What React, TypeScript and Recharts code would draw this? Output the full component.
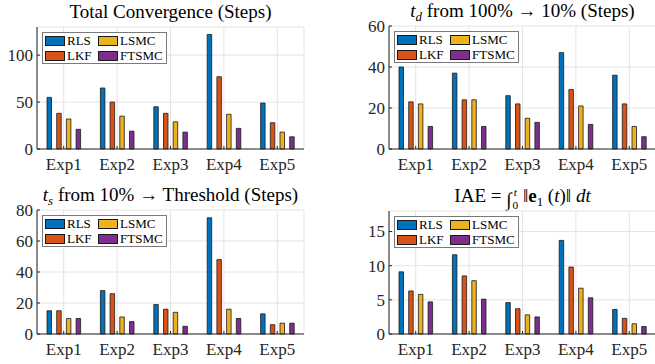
import React from 'react';
import { BarChart, Bar, XAxis, YAxis, CartesianGrid, Legend } from 'recharts';

const experiments = ['Exp1', 'Exp2', 'Exp3', 'Exp4', 'Exp5'];
const methods = ['RLS', 'LKF', 'LSMC', 'FTSMC'];

// Total convergence (steps)
const totalRLS = [55, 65, 45, 122, 49];
const totalLKF = [38, 50, 38, 77, 28];
const totalLSMC = [32, 35, 29, 37, 18];
const totalFTSMC = [21, 19, 18, 22, 13];

// t_d from 100% -> 10% (steps)
const tdRLS = [40, 37, 26, 47, 36];
const tdLKF = [23, 24, 22, 29, 22];
const tdLSMC = [22, 24, 15, 21, 11];
const tdFTSMC = [11, 11, 13, 12, 6];

// t_s from 10% -> threshold (steps)
const tsRLS = [15, 28, 19, 75, 13];
const tsLKF = [15, 26, 16, 48, 6];
const tsLSMC = [10, 11, 14, 16, 7];
const tsFTSMC = [10, 8, 5, 10, 7];

// IAE
const iaeRLS = [9.1, 11.6, 4.6, 13.7, 3.6];
const iaeLKF = [6.3, 8.5, 3.7, 9.8, 2.3];
const iaeLSMC = [5.8, 7.8, 2.8, 6.7, 1.5];
const iaeFTSMC = [4.7, 5.1, 2.5, 5.3, 1.1];

const totalTicks = [0, 50, 100];
const tdTicks = [0, 20, 40, 60];
const tsTicks = [0, 20, 40, 60, 80];
const iaeTicks = [0, 5, 10, 15];

const COLORS: Record<string, string> = {
  RLS: '#0072BD',
  LKF: '#D95319',
  LSMC: '#EDB120',
  FTSMC: '#7E2F8E',
};

const FONT = 'Liberation Serif';
const AXIS = '#262626';
const TICK_LEN = 3;

const toRows = (rls: number[], lkf: number[], lsmc: number[], ftsmc: number[]) =>
  experiments.map((exp, i) => ({ exp, RLS: rls[i], LKF: lkf[i], LSMC: lsmc[i], FTSMC: ftsmc[i] }));

const BottomTick = ({ x, y, payload }: any) => (
  <g>
    <line x1={x} x2={x} y1={y} y2={y - TICK_LEN} stroke={AXIS} />
    <text x={x} y={y + 21} textAnchor="middle" fill={AXIS} fontFamily={FONT} fontSize={17}>
      {payload.value}
    </text>
  </g>
);

const TopTick = ({ x, y }: any) => <line x1={x} x2={x} y1={y} y2={y + TICK_LEN} stroke={AXIS} />;

const LeftTick = ({ x, y, payload }: any) => (
  <g>
    <line x1={x} x2={x + TICK_LEN} y1={y} y2={y} stroke={AXIS} />
    <text x={x - 4} y={y} dy="0.35em" textAnchor="end" fill={AXIS} fontFamily={FONT} fontSize={17}>
      {payload.value}
    </text>
  </g>
);

const RightTick = ({ x, y }: any) => <line x1={x} x2={x - TICK_LEN} y1={y} y2={y} stroke={AXIS} />;

const renderLegend = (props: any) => {
  const items = methods.map((m) => (props.payload || []).find((p: any) => p.value === m)).filter(Boolean);
  return (
    <div
      style={{
        display: 'grid',
        gridTemplateColumns: '53px auto',
        gridTemplateRows: '15px 15px',
        gridAutoFlow: 'column',
        border: '1.5px solid #7a7a7a',
        background: '#fff',
        padding: '0px 3px 0px 2px',
        fontFamily: FONT,
        fontSize: 13,
        color: '#000',
      }}
    >
      {items.map((entry: any) => (
        <div key={entry.value} style={{ display: 'flex', alignItems: 'center', lineHeight: '15px' }}>
          <span
            style={{
              display: 'inline-block',
              boxSizing: 'border-box',
              width: 20,
              height: 10,
              background: COLORS[entry.value],
              border: '1px solid #1a1a1a',
              marginRight: 2,
            }}
          />
          {entry.value}
        </div>
      ))}
    </div>
  );
};

const small = (s: string, italic = false) => (
  <span style={{ fontSize: '0.68em', verticalAlign: '-0.3em', lineHeight: 0, fontStyle: italic ? 'italic' : 'normal' }}>
    {s}
  </span>
);

// integral sign with its limits
const Integral = () => (
  <span style={{ display: 'inline-flex', alignItems: 'center', verticalAlign: '-0.2em' }}>
    <span>∫</span>
    <span
      style={{
        display: 'inline-flex',
        flexDirection: 'column',
        fontSize: '0.6em',
        lineHeight: '1.15em',
        marginLeft: 1,
      }}
    >
      <i>t</i>
      <span>0</span>
    </span>
  </span>
);

interface PanelProps {
  title: React.ReactNode;
  data: any[];
  yMax: number;
  ticks: number[];
  left: number;
  top: number;
  yAxisWidth: number;
  marginRight: number;
  marginTop: number;
  xAxisHeight: number;
  titleTop: number;
}

const Panel = ({ title, data, yMax, ticks, left, top, yAxisWidth, marginRight, marginTop, xAxisHeight, titleTop }: PanelProps) => (
  <div style={{ position: 'absolute', left, top, width: 330, height: 182 }}>
    <div
      style={{
        position: 'absolute',
        left: yAxisWidth,
        width: 267,
        top: titleTop,
        textAlign: 'center',
        fontFamily: FONT,
        fontSize: 19,
        lineHeight: '19px',
        whiteSpace: 'nowrap',
        color: '#000',
      }}
    >
      {title}
    </div>
    <BarChart
      width={330}
      height={182}
      data={data}
      margin={{ top: marginTop, right: marginRight, bottom: 0, left: 0 }}
      barGap={5.2}
      barSize={4.5}
    >
      <CartesianGrid stroke="#e4e4e4" />
      <XAxis
        dataKey="exp"
        height={xAxisHeight}
        tickSize={0}
        tickMargin={0}
        interval={0}
        axisLine={{ stroke: AXIS }}
        tick={(p: any) => <BottomTick {...p} />}
      />
      <XAxis
        xAxisId="top"
        dataKey="exp"
        orientation="top"
        height={0}
        tickSize={0}
        tickMargin={0}
        interval={0}
        axisLine={{ stroke: AXIS }}
        tick={(p: any) => <TopTick {...p} />}
      />
      <YAxis
        type="number"
        domain={[0, yMax]}
        ticks={ticks}
        width={yAxisWidth}
        tickSize={0}
        tickMargin={0}
        interval={0}
        axisLine={{ stroke: AXIS }}
        tick={(p: any) => <LeftTick {...p} />}
      />
      <YAxis
        yAxisId="right"
        orientation="right"
        type="number"
        domain={[0, yMax]}
        ticks={ticks}
        width={0}
        tickSize={0}
        tickMargin={0}
        interval={0}
        axisLine={{ stroke: AXIS }}
        tick={(p: any) => <RightTick {...p} />}
      />
      <Legend
        layout="horizontal"
        verticalAlign="middle"
        align="center"
        content={renderLegend}
        wrapperStyle={{ left: yAxisWidth + 5, top: marginTop + 5, width: 'auto', height: 'auto' }}
      />
      {methods.map((m) => (
        <Bar key={m} dataKey={m} name={m} fill={COLORS[m]} stroke="#1a1a1a" strokeWidth={0.8} isAnimationActive={false} />
      ))}
    </BarChart>
  </div>
);

const App = () => (
  <div style={{ position: 'absolute', left: 0, top: 0, width: 655, height: 364, overflow: 'hidden', background: '#fff' }}>
    <Panel
      title="Total Convergence (Steps)"
      data={toRows(totalRLS, totalLKF, totalLSMC, totalFTSMC)}
      yMax={130}
      ticks={totalTicks}
      left={0}
      top={0}
      yAxisWidth={37}
      marginRight={26}
      marginTop={27}
      xAxisHeight={33}
      titleTop={2}
    />
    <Panel
      title={
        <>
          <i>t</i>
          {small('d', true)} from 100% → 10% (Steps)
        </>
      }
      data={toRows(tdRLS, tdLKF, tdLSMC, tdFTSMC)}
      yMax={60}
      ticks={tdTicks}
      left={330}
      top={0}
      yAxisWidth={59}
      marginRight={4}
      marginTop={26}
      xAxisHeight={33}
      titleTop={1}
    />
    <Panel
      title={
        <>
          <i>t</i>
          {small('s', true)} from 10% → Threshold (Steps)
        </>
      }
      data={toRows(tsRLS, tsLKF, tsLSMC, tsFTSMC)}
      yMax={80}
      ticks={tsTicks}
      left={0}
      top={182}
      yAxisWidth={37}
      marginRight={26}
      marginTop={28}
      xAxisHeight={30}
      titleTop={3}
    />
    <Panel
      title={
        <>
          IAE = <Integral /> ‖<b>e</b>
          {small('1')} (<i>t</i>)‖ <i>dt</i>
        </>
      }
      data={toRows(iaeRLS, iaeLKF, iaeLSMC, iaeFTSMC)}
      yMax={18}
      ticks={iaeTicks}
      left={330}
      top={182}
      yAxisWidth={59}
      marginRight={4}
      marginTop={29}
      xAxisHeight={30}
      titleTop={4}
    />
  </div>
);

export default App;
